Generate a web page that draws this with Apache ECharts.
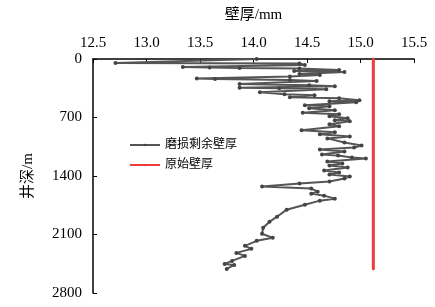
<!DOCTYPE html>
<html>
<head>
<meta charset="utf-8">
<script src="https://cdn.jsdelivr.net/npm/echarts@6/dist/echarts.min.js"></script>
<style>
  html, body { margin: 0; padding: 0; background: #fff; }
  #chart { width: 435px; height: 307px; }
</style>
</head>
<body>
<div id="chart"></div>
<script>
// 井深 (m) 与 磨损剩余壁厚 (mm)
const depth = [
  0, 48, 54, 72, 96, 102, 108, 114, 132, 144, 156, 180, 192, 210, 234, 240,
  252, 264, 300, 313, 325, 343, 349, 361, 397, 421, 433, 457, 469, 493, 505,
  517, 553, 565, 589, 613, 643, 661, 685, 709, 733, 745, 781, 805, 853, 877,
  901, 926, 950, 998, 1034, 1058, 1082, 1106, 1142, 1154, 1178, 1190, 1226,
  1250, 1274, 1298, 1334, 1358, 1382, 1406, 1430, 1466, 1490, 1526, 1550,
  1587, 1611, 1635, 1671, 1695, 1743, 1803, 1887, 1947, 2019, 2091, 2140,
  2176, 2236, 2272, 2320, 2356, 2416, 2452, 2464, 2512
];
const wornThickness = [
  14.03, 12.71, 14.43, 14.48, 13.34, 13.59, 13.87, 14.43, 14.80, 14.38, 14.85,
  14.43, 14.62, 14.34, 13.47, 13.64, 14.34, 14.59, 13.87, 14.52, 14.76, 13.87,
  14.24, 14.68, 14.06, 14.29, 14.57, 14.34, 14.80, 14.99, 14.71, 14.96, 14.48,
  14.71, 14.52, 14.76, 14.46, 14.80, 14.71, 14.88, 14.76, 14.90, 14.71, 14.80,
  14.45, 14.76, 14.62, 14.90, 14.69, 14.85, 15.01, 14.94, 14.62, 14.85, 14.64,
  14.79, 14.92, 15.05, 14.69, 14.83, 14.71, 14.88, 14.66, 14.80, 14.71, 14.90,
  14.85, 14.71, 14.43, 14.08, 14.54, 14.60, 14.54, 14.66, 14.76, 14.62, 14.48,
  14.31, 14.22, 14.15, 14.09, 14.08, 14.18, 14.03, 13.92, 13.98, 13.84, 13.92,
  13.80, 13.73, 13.82, 13.75
];
// 原始壁厚
const originalDepth = [0, 2510];
const originalThickness = [15.12, 15.12];

const seriesNames = ["磨损剩余壁厚", "原始壁厚"];

const chart = echarts.init(document.getElementById("chart"));

const serif = "'Liberation Serif', 'Times New Roman', serif";
const cjk = "'Liberation Serif', 'Noto Sans CJK SC', serif";

const option = {
  animation: false,
  grid: { left: 93, top: 59, right: 21, bottom: 14 },
  legend: {
    orient: "vertical",
    left: 124,
    top: 134,
    itemWidth: 30,
    itemHeight: 3,
    itemGap: 8,
    data: seriesNames,
    textStyle: { fontSize: 12, color: "#000", fontFamily: cjk },
  },
  xAxis: {
    type: "value",
    position: "top",
    min: 12.5,
    max: 15.5,
    interval: 0.5,
    name: "壁厚/mm",
    nameLocation: "middle",
    nameGap: 36,
    nameTextStyle: { fontSize: 15, color: "#000", fontFamily: cjk },
    axisLine: { lineStyle: { color: "#000", width: 1.5 } },
    axisTick: { inside: true, length: 4, lineStyle: { color: "#000" } },
    axisLabel: {
      margin: 8,
      fontSize: 15,
      color: "#000",
      fontFamily: serif,
      formatter: (v) => v.toFixed(1),
    },
    splitLine: { show: false },
  },
  yAxis: {
    type: "value",
    inverse: true,
    min: 0,
    max: 2800,
    interval: 700,
    name: "井深/m",
    nameLocation: "middle",
    nameGap: 57,
    nameTextStyle: { fontSize: 15, color: "#000", fontFamily: cjk },
    axisLine: { show: true, lineStyle: { color: "#000", width: 1.5 } },
    axisTick: { show: true, inside: true, length: 4, lineStyle: { color: "#000" } },
    axisLabel: {
      margin: 11,
      fontSize: 15,
      color: "#000",
      fontFamily: serif,
      formatter: (v) => String(v),
    },
    splitLine: { show: false },
  },
  series: [
    {
      name: seriesNames[0],
      type: "line",
      data: wornThickness.map((v, i) => [v, depth[i]]),
      symbol: "circle",
      symbolSize: 4,
      lineStyle: { color: "#555", width: 2 },
      itemStyle: { color: "#444" },
      z: 3,
    },
    {
      name: seriesNames[1],
      type: "line",
      data: originalThickness.map((v, i) => [v, originalDepth[i]]),
      symbol: "circle",
      symbolSize: 3,
      lineStyle: { color: "#f03c3c", width: 3 },
      itemStyle: { color: "#f03c3c" },
      z: 2,
    },
  ],
};

chart.setOption(option);
</script>
</body>
</html>
